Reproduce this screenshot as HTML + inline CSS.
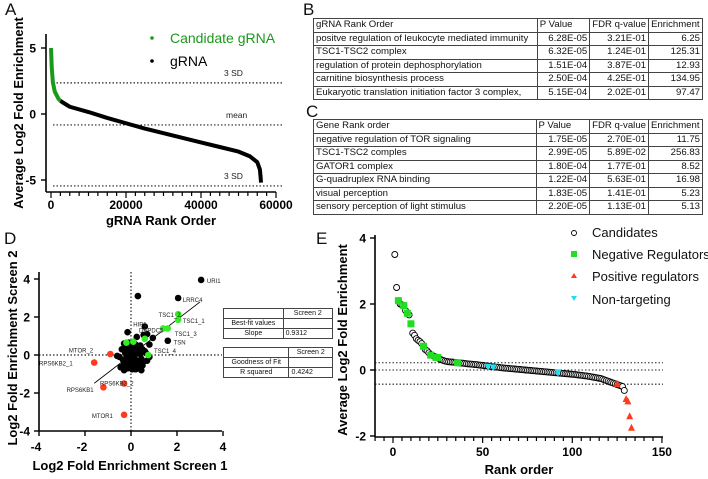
<!DOCTYPE html>
<html><head><meta charset="utf-8">
<style>
html,body{margin:0;padding:0;background:#fff;}
body{width:708px;height:479px;position:relative;overflow:hidden;font-family:"Liberation Sans",sans-serif;}
svg{position:absolute;left:0;top:0;}
table{position:absolute;border-collapse:collapse;font-family:"Liberation Sans",sans-serif;color:#111;}
table td{border:1px solid #444;padding:0 2px;white-space:nowrap;overflow:hidden;line-height:12px;}
.t td{font-size:9.6px;height:12.5px;}
.r{text-align:right;}
.s td{font-size:7px;height:9px;line-height:9px;text-align:center;}
.lbl{position:absolute;font-size:17px;color:#111;}
</style></head>
<body>
<div class="lbl" style="left:5px;top:0px">A</div>
<div class="lbl" style="left:303px;top:0px">B</div>
<div class="lbl" style="left:306px;top:102px">C</div>
<div class="lbl" style="left:4px;top:229px">D</div>
<div class="lbl" style="left:316px;top:229px">E</div>

<table class="t" style="left:313px;top:18px;width:390px">
<colgroup><col style="width:225px"><col style="width:54px"><col style="width:57px"><col style="width:54px"></colgroup>
<tr><td>gRNA Rank Order</td><td>P Value</td><td>FDR q-value</td><td>Enrichment</td></tr>
<tr><td>positve regulation of leukocyte mediated immunity</td><td class="r">6.28E-05</td><td class="r">3.21E-01</td><td class="r">6.25</td></tr>
<tr><td>TSC1-TSC2 complex</td><td class="r">6.32E-05</td><td class="r">1.24E-01</td><td class="r">125.31</td></tr>
<tr><td>regulation of protein dephosphorylation</td><td class="r">1.51E-04</td><td class="r">3.87E-01</td><td class="r">12.93</td></tr>
<tr><td>carnitine biosynthesis process</td><td class="r">2.50E-04</td><td class="r">4.25E-01</td><td class="r">134.95</td></tr>
<tr><td>Eukaryotic translation initiation factor 3 complex,</td><td class="r">5.15E-04</td><td class="r">2.02E-01</td><td class="r">97.47</td></tr>
</table>

<table class="t" style="left:313px;top:119px;width:390px">
<colgroup><col style="width:225px"><col style="width:54px"><col style="width:57px"><col style="width:54px"></colgroup>
<tr><td>Gene Rank order</td><td>P Value</td><td>FDR q-value</td><td>Enrichment</td></tr>
<tr><td>negative regulation of TOR signaling</td><td class="r">1.75E-05</td><td class="r">2.70E-01</td><td class="r">11.75</td></tr>
<tr><td>TSC1-TSC2 comples</td><td class="r">2.99E-05</td><td class="r">5.89E-02</td><td class="r">256.83</td></tr>
<tr><td>GATOR1 complex</td><td class="r">1.80E-04</td><td class="r">1.77E-01</td><td class="r">8.52</td></tr>
<tr><td>G-quadruplex RNA binding</td><td class="r">1.22E-04</td><td class="r">5.63E-01</td><td class="r">16.98</td></tr>
<tr><td>visual perception</td><td class="r">1.83E-05</td><td class="r">1.41E-01</td><td class="r">5.23</td></tr>
<tr><td>sensory perception of light stimulus</td><td class="r">2.20E-05</td><td class="r">1.13E-01</td><td class="r">5.13</td></tr>
</table>

<table class="s" style="left:223px;top:308px;width:110px">
<colgroup><col style="width:60px"><col style="width:50px"></colgroup>
<tr><td></td><td>Screen 2</td></tr>
<tr><td>Best-fit values</td><td></td></tr>
<tr><td>Slope</td><td style="text-align:left">0.9312</td></tr>
</table>
<table class="s" style="left:223px;top:347px;width:110px">
<colgroup><col style="width:66px"><col style="width:44px"></colgroup>
<tr><td></td><td>Screen 2</td></tr>
<tr><td>Goodness of Fit</td><td></td></tr>
<tr><td>R squared</td><td style="text-align:left">0.4242</td></tr>
</table>

<svg id="svg" width="708" height="479" xmlns="http://www.w3.org/2000/svg"></svg>

<script>
// ---------- Panel A data ----------
const aRanks = [0,200,500,1000,2000,2500,3000,5000,10000,15000,20000,25000,30000,35000,40000,45000,50000,53000,55000,55700,55900,56000];
const aValues = [5.0,3.5,2.4,1.7,1.15,1.0,0.9,0.55,0.15,-0.3,-0.7,-1.1,-1.45,-1.8,-2.15,-2.5,-2.85,-3.2,-3.65,-4.2,-4.8,-5.2];
const aCandidateCutoff = 2500;
const aRefLines = [2.36, -0.83, -5.45];
const aRefLabels = ["3 SD","mean","3 SD"];
const aXTicks = [0,20000,40000,60000];
const aYTicks = [5,0,-5];

// ---------- Panel D data ----------
const dBlackX = [-0.6,-0.5,-0.45,-0.3,-0.2,-0.1,0,0.1,0.2,0.3,0.45,0.55,0.7,0.8,0.65,0.5,0.4,0.3,0.2,0.1,0,-0.1,-0.2,-0.3,-0.1,0.1,0.25,-0.15,0.6,0.55,0.7,0.95,0.8,0.35,-0.05,0.15,-0.25,-0.35,0.05,-0.2,0.25,0.4,-0.4,0.15,0.05,-0.15,0.5,0.3,-0.3,0.6,-0.05,0.1,-0.2,0.2,0,-0.1,0.35,0.45,3.05,2.05,0.3,1.6];
const dBlackY = [-0.05,-0.1,-0.65,-0.8,-0.5,-0.3,-0.2,-0.6,-0.75,-0.7,-0.8,-0.35,-0.3,-0.1,0.1,0.3,0.5,0.35,0.2,0.1,0,0.2,0.4,0.6,0.65,0.45,0.95,1.2,1.5,1.05,1.1,0.9,0.55,-0.3,-0.4,-0.1,0.1,-0.25,0.3,-0.15,-0.45,0.05,0.3,0.6,-0.75,-0.7,-0.55,0.1,-0.45,0.2,0.15,-0.35,-0.6,0.55,-0.5,0.5,0.25,-0.2,3.95,3.0,3.1,0.75];
const dGreenX = [2.05,2.05,1.6,1.4,0.6,0.75,0.1,-0.2];
const dGreenY = [2.15,1.85,1.4,1.4,0.85,0.0,0.7,0.65];
const dRedX = [-0.9,-1.6,-0.3,-1.2,-0.3];
const dRedY = [0.05,-0.4,-1.5,-1.7,-3.15];
const dLabelText = ["URI1","LRRC4","TSC1_2","TSC1_1","HIP1","DEPDC5","TSC1_3","TSN","TSC1_4","MTOR_2","RPS6KB2_1","RPS6KB2_2","RPS6KB1","MTOR1"];
const dLabelX = [3.3,2.25,1.2,2.25,0.1,0.35,1.9,1.85,1.0,-2.7,-4.0,-1.35,-2.8,-1.7];
const dLabelY = [3.9,2.9,2.1,1.8,1.6,1.3,1.1,0.65,0.2,0.25,-0.45,-1.5,-1.85,-3.2];
const dFitX = [-1.6,3.0];
const dSlope = 0.9312;
const dTicks = [-4,-2,0,2,4];

// ---------- Panel E data ----------
const eCandidates = [3.5,2.5,2.1,2.0,1.97,1.95,1.8,1.72,1.67,1.4,1.12,1.05,0.95,0.9,0.86,0.8,0.72,0.62,0.58,0.52,0.47,0.44,0.41,0.39,0.37,0.34,0.31,0.29,0.27,0.26,
0.25,0.245,0.24,0.235,0.23,0.22,0.215,0.21,0.205,0.2,0.19,0.185,0.18,0.175,0.17,0.165,0.16,0.15,0.145,0.14,
0.13,0.125,0.12,0.11,0.1,0.095,0.09,0.085,0.08,0.07,0.065,0.06,0.055,0.05,0.045,0.04,0.035,0.03,0.025,0.02,
0.015,0.01,0.005,0,-0.005,-0.01,-0.015,-0.02,-0.025,-0.03,-0.035,-0.04,-0.045,-0.05,-0.055,-0.06,-0.065,-0.07,-0.075,-0.08,
-0.085,-0.09,-0.095,-0.1,-0.105,-0.11,-0.115,-0.12,-0.125,-0.13,-0.135,-0.14,-0.15,-0.155,-0.16,-0.17,-0.175,-0.18,-0.19,-0.2,
-0.21,-0.22,-0.23,-0.24,-0.25,-0.26,-0.28,-0.3,-0.32,-0.34,-0.36,-0.38,-0.4,-0.42,-0.44,-0.46,-0.48,-0.5,-0.62];
const eNegRanks = [3,6,8,10,17,21,24,25,36];
const eNegValues = [2.1,1.95,1.72,1.4,0.72,0.45,0.38,0.38,0.22];
const ePosRanks = [125,130,131,132,133];
const ePosValues = [-0.42,-0.88,-0.95,-1.4,-1.75];
const eNonRanks = [53,56,92];
const eNonValues = [0.1,0.08,-0.08];
const eRefLines = [0.22,0,-0.43];
const eXTicks = [0,50,100,150];
const eYTicks = [4,2,0,-2];

const NS = "http://www.w3.org/2000/svg";
const svg = document.getElementById("svg");
function mk(tag, attrs, parent){const e=document.createElementNS(NS,tag);for(const k in attrs)e.setAttribute(k,attrs[k]);(parent||svg).appendChild(e);return e;}
function txt(s, attrs, parent){const e=mk("text",attrs,parent);e.textContent=s;return e;}

// ===== Panel A =====
const ax = r => 51 + r*0.00375;
const ay = v => 114 - v*13.2;
const gA = mk("g",{});


aRefLines.forEach((v,i)=>{
  const l=mk("line",{x1:53,x2:283,y1:ay(v),y2:ay(v),stroke:"#222","stroke-width":1.2,"stroke-dasharray":"1.5,2"},gA);
  
  
  const t=txt(aRefLabels[i],{x:aRefLabels[i]==="mean"?226:224,y:ay(v)-7,"font-size":"8.5",fill:"#222"},gA);
  
  
});
let ptsBlack=[], ptsGreen=[];
aRanks.forEach((r,i)=>{ if(r>=aCandidateCutoff) ptsBlack.push(ax(r)+","+ay(aValues[i])); if(r<=aCandidateCutoff) ptsGreen.push(ax(r)+","+ay(aValues[i])); });
const cb=mk("polyline",{points:ptsBlack.join(" "),fill:"none",stroke:"#000","stroke-width":4,"stroke-linejoin":"round"},gA);


const cg=mk("polyline",{points:ptsGreen.join(" "),fill:"none",stroke:"#1a9a1a","stroke-width":4,"stroke-linejoin":"round"},gA);


mk("line",{x1:46,x2:46,y1:34,y2:192,stroke:"#000","stroke-width":1.6},gA);
mk("line",{x1:46,x2:276,y1:192,y2:192,stroke:"#000","stroke-width":1.6},gA);
aYTicks.forEach(v=>{mk("line",{x1:41,x2:46,y1:ay(v),y2:ay(v),stroke:"#000","stroke-width":1.4},gA);
  const t=txt((v<0?"-":"")+Math.abs(v),{x:36,y:ay(v)+4.5,"font-size":"12","font-weight":"bold","text-anchor":"end"},gA);
  
  });
for(let r=0;r<=60000;r+=2500){const major=aXTicks.includes(r);mk("line",{x1:ax(r),x2:ax(r),y1:192,y2:major?198:196,stroke:"#000","stroke-width":1.2},gA);}
aXTicks.forEach(r=>{const t=txt(String(r),{x:ax(r),y:209,"font-size":"12","font-weight":"bold","text-anchor":"middle"},gA);
  
  });
let t=txt("gRNA Rank Order",{x:161,y:225,"font-size":"13","font-weight":"bold","text-anchor":"middle"},gA);


t=txt("Average Log2 Fold Enrichment",{x:0,y:0,"font-size":"13","font-weight":"bold","text-anchor":"middle",transform:"translate(23,113) rotate(-90)"},gA);


mk("circle",{cx:152,cy:38,r:1.8,fill:"#1a9a1a"},gA);
t=txt("Candidate gRNA",{x:170,y:43,"font-size":"14",fill:"#1a9a1a"},gA);


mk("circle",{cx:152,cy:61,r:1.8,fill:"#000"},gA);
t=txt("gRNA",{x:170,y:66,"font-size":"14",fill:"#000"},gA);



// ===== Panel D =====
const dx = v => 131 + v*23;
const dy = v => 355 - v*19;
const gD = mk("g",{});


mk("line",{x1:dx(0),x2:dx(0),y1:272,y2:431,stroke:"#222","stroke-width":1.2,"stroke-dasharray":"1.5,2"},gD);
mk("line",{x1:39,x2:222,y1:dy(0),y2:dy(0),stroke:"#222","stroke-width":1.2,"stroke-dasharray":"1.5,2"},gD);
const fit=mk("line",{x1:dx(dFitX[0]),y1:dy(dFitX[0]*dSlope),x2:dx(dFitX[1]),y2:dy(dFitX[1]*dSlope),stroke:"#000","stroke-width":0.9},gD);


dBlackX.forEach((x,i)=>{const c=mk("circle",{cx:dx(x),cy:dy(dBlackY[i]),r:3.3,fill:"#000"},gD);
  
  });
dGreenX.forEach((x,i)=>{const c=mk("circle",{cx:dx(x),cy:dy(dGreenY[i]),r:3.3,fill:"#33ee22"},gD);
  
  });
dRedX.forEach((x,i)=>{const c=mk("circle",{cx:dx(x),cy:dy(dRedY[i]),r:3.3,fill:"#ff3b1f"},gD);
  
  });
dLabelText.forEach((s,i)=>{const l=txt(s,{x:dx(dLabelX[i]),y:dy(dLabelY[i])+2,"font-size":"6",fill:"#222"},gD);
  
  });
mk("line",{x1:39,x2:39,y1:272,y2:431,stroke:"#000","stroke-width":1.6},gD);
mk("line",{x1:39,x2:222,y1:431,y2:431,stroke:"#000","stroke-width":1.6},gD);
dTicks.forEach(v=>{
  mk("line",{x1:34,x2:39,y1:dy(v),y2:dy(v),stroke:"#000","stroke-width":1.4},gD);
  mk("line",{x1:dx(v),x2:dx(v),y1:431,y2:436,stroke:"#000","stroke-width":1.4},gD);
  const a=txt((v<0?"-":"")+Math.abs(v),{x:30,y:dy(v)+4.5,"font-size":"12","font-weight":"bold","text-anchor":"end"},gD);
  
  
  const b=txt((v<0?"-":"")+Math.abs(v),{x:dx(v)-(v<0?3:0),y:451,"font-size":"12","font-weight":"bold","text-anchor":"middle"},gD);
  
  
});
t=txt("Log2 Fold Enrichment Screen 1",{x:130,y:470,"font-size":"13","font-weight":"bold","text-anchor":"middle"},gD);


t=txt("Log2 Fold Enrichment Screen 2",{x:0,y:0,"font-size":"13","font-weight":"bold","text-anchor":"middle",transform:"translate(17,348) rotate(-90)"},gD);



// ===== Panel E =====
const ex = r => 393 + r*1.793;
const ey = v => 370 - v*33;
const gE = mk("g",{});


eRefLines.forEach(v=>{const l=mk("line",{x1:375,x2:663,y1:ey(v),y2:ey(v),stroke:"#222","stroke-width":1.1,"stroke-dasharray":"1.5,2"},gE);
  
  });
eCandidates.forEach((v,i)=>{const c=mk("circle",{cx:ex(i+1),cy:ey(v),r:3,fill:"#fff",stroke:"#000","stroke-width":0.9},gE);
  
  });
eNegRanks.forEach((r,i)=>{const c=mk("rect",{x:ex(r)-3.5,y:ey(eNegValues[i])-3.5,width:7,height:7,fill:"#22dd22"},gE);
  
  });
ePosRanks.forEach((r,i)=>{const X=ex(r),Y=ey(ePosValues[i]);const c=mk("polygon",{points:`${X},${Y-4} ${X-3.5},${Y+3} ${X+3.5},${Y+3}`,fill:"#ff3b1f"},gE);
  
  });
eNonRanks.forEach((r,i)=>{const X=ex(r),Y=ey(eNonValues[i]);const c=mk("polygon",{points:`${X},${Y+4} ${X-3.5},${Y-3} ${X+3.5},${Y-3}`,fill:"#22ddee"},gE);
  
  });
mk("line",{x1:375,x2:375,y1:235,y2:437,stroke:"#000","stroke-width":1.6},gE);
mk("line",{x1:375,x2:663,y1:437,y2:437,stroke:"#000","stroke-width":1.6},gE);
eYTicks.forEach(v=>{mk("line",{x1:370,x2:375,y1:ey(v),y2:ey(v),stroke:"#000","stroke-width":1.4},gE);
  const a=txt((v<0?"-":"")+Math.abs(v),{x:366,y:ey(v)+4.5,"font-size":"12","font-weight":"bold","text-anchor":"end"},gE);
  
  });
for(let r=-10;r<=150;r+=5){const major=eXTicks.includes(r);mk("line",{x1:ex(r),x2:ex(r),y1:437,y2:major?443:441,stroke:"#000","stroke-width":1.2},gE);}
eXTicks.forEach(r=>{const a=txt(String(r),{x:ex(r),y:456,"font-size":"12","font-weight":"bold","text-anchor":"middle"},gE);
  
  });
t=txt("Rank order",{x:519,y:474,"font-size":"13","font-weight":"bold","text-anchor":"middle"},gE);


t=txt("Average Log2 Fold Enrichment",{x:0,y:0,"font-size":"13","font-weight":"bold","text-anchor":"middle",transform:"translate(347,340) rotate(-90)"},gE);


// legend
mk("circle",{cx:574,cy:233,r:2.5,fill:"#fff",stroke:"#000","stroke-width":0.9},gE);
mk("rect",{x:571,y:251,width:6,height:6,fill:"#22dd22"},gE);
mk("polygon",{points:"574,273 571,278 577,278",fill:"#ff3b1f"},gE);
mk("polygon",{points:"574,301 571,296 577,296",fill:"#22ddee"},gE);
[["Candidates",237,'legend-candidates'],["Negative Regulators",259,'legend-negative-regulators'],["Positive regulators",281,'legend-positive-regulators'],["Non-targeting",304,'legend-non-targeting']].forEach(a=>{
  const l=txt(a[0],{x:592,y:a[1],"font-size":"13",fill:"#111"},gE);
  
  
});
</script>
</body></html>
